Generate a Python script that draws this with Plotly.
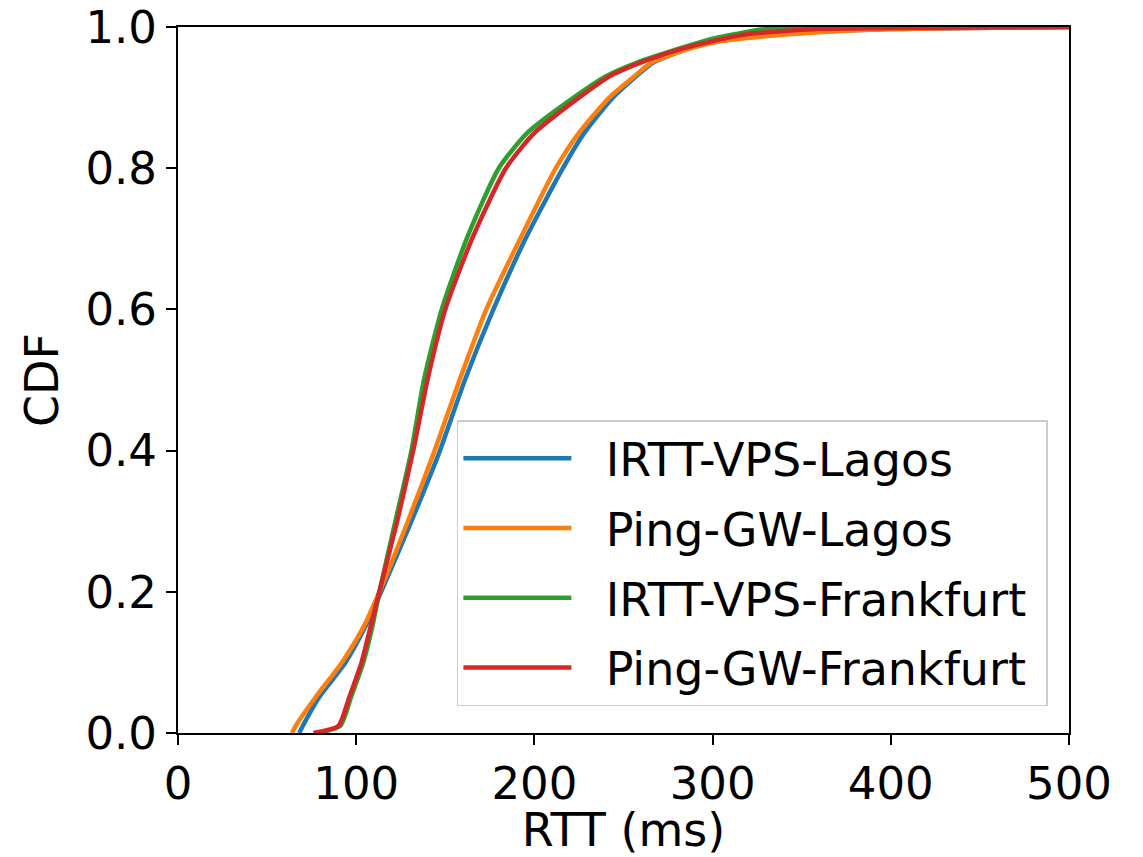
import plotly.graph_objects as go

# CDF levels (shared) and RTT (ms) at each level
cdf_levels = [0.0, 0.01, 0.05, 0.1, 0.15, 0.2, 0.3, 0.4, 0.5, 0.6, 0.7, 0.8, 0.85, 0.9, 0.93, 0.95, 0.97, 0.98, 0.99, 0.997, 1.0]

irtt_vps_lagos =     [68, 70, 79, 94, 105, 114, 131, 147, 161, 177, 195, 216, 228, 244, 257, 267, 287, 303, 340, 400, 500]
ping_gw_lagos =      [64, 66, 77, 92, 104, 113, 129, 144, 158, 173, 192, 212, 225, 242, 256, 266, 288, 305, 345, 400, 500]
irtt_vps_frankfurt = [78, 91, 97, 104, 109, 113, 122, 131, 138, 148, 162, 180, 196, 222, 240, 258, 282, 295, 313, 330, 500]
ping_gw_frankfurt =  [76, 90, 96, 103, 108, 113, 123, 132, 140, 150, 165, 184, 200, 225, 242, 260, 284, 300, 320, 360, 500]

series_names = ["IRTT-VPS-Lagos", "Ping-GW-Lagos", "IRTT-VPS-Frankfurt", "Ping-GW-Frankfurt"]
series_values = [irtt_vps_lagos, ping_gw_lagos, irtt_vps_frankfurt, ping_gw_frankfurt]
colors = ["#1f77b4", "#ff7f0e", "#2ca02c", "#d62728"]

x_ticks = [0, 100, 200, 300, 400, 500]
y_ticks = [0.0, 0.2, 0.4, 0.6, 0.8, 1.0]

FONT = "DejaVu Sans"
TICK_FS = 45
TEXT_FS = 46
NBSP = "\u00a0"

fig = go.Figure()
for name, vals, col in zip(series_names, series_values, colors):
    fig.add_trace(go.Scatter(
        x=vals, y=cdf_levels, mode="lines", name=NBSP * 2 + name + NBSP,
        line=dict(color=col, width=4.5, shape="spline", smoothing=0.6), legendgroup=name,
    ))

axis_common = dict(
    showline=True, linecolor="black", linewidth=2, mirror=True,
    ticks="outside", ticklen=10, tickwidth=2, tickcolor="black",
    showgrid=False, zeroline=False, automargin=False,
    tickfont=dict(family=FONT, size=TICK_FS, color="black"),
)

fig.update_xaxes(range=[0, 500], tickvals=x_ticks,
                 title=dict(text="RTT (ms)", font=dict(family=FONT, size=TEXT_FS, color="black"), standoff=4),
                 **axis_common)
fig.update_yaxes(range=[0, 1], tickvals=y_ticks, tickformat=".1f",
                 title=dict(text="CDF", font=dict(family=FONT, size=TEXT_FS, color="black"), standoff=12),
                 **axis_common)

fig.update_layout(
    width=1143, height=857,
    margin=dict(l=178, r=74, t=27, b=124),
    plot_bgcolor="white", paper_bgcolor="white",
    font=dict(family=FONT, color="black"),
    legend=dict(
        x=0.313, y=0.443, xanchor="left", yanchor="top",
        font=dict(family=FONT, size=TEXT_FS, color="black"),
        bgcolor="rgba(255,255,255,0.8)", bordercolor="#cccccc", borderwidth=1.5,
        tracegroupgap=7, itemwidth=108,
    ),
    showlegend=True,
)

fig.write_html("out.html")
